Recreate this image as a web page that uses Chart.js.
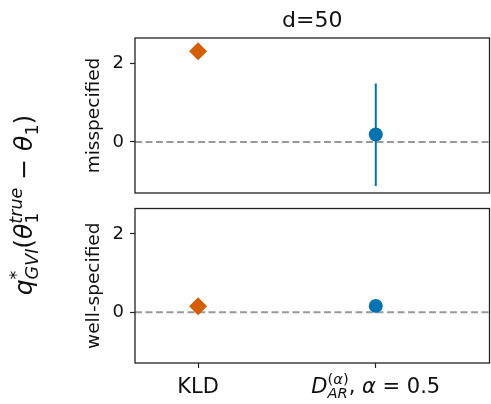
<!DOCTYPE html>
<html>
<head>
<meta charset="utf-8">
<script src="https://cdn.jsdelivr.net/npm/chart.js@4"></script>
<style>
  html, body { margin: 0; padding: 0; background: #fff; }
  #wrap { position: relative; width: 491px; height: 404px; }
  #wrap canvas { position: absolute; left: 0; top: 0; }
</style>
</head>
<body>
<div id="wrap">
  <canvas id="topPanel" width="491" height="404"></canvas>
  <canvas id="bottomPanel" width="491" height="404"></canvas>
</div>
<script>
// --- data ---
const methods = ['KLD', 'D_AR (alpha=0.5)'];
const methodPos = [0, 1];
const misspecMean = [2.31, 0.19];
const misspecLow = [null, -1.12];
const misspecHigh = [null, 1.49];
const wellMean = [0.15, 0.16];
const wellLow = [null, null];
const wellHigh = [null, null];
const yTicks = [0, 2];
const panelNames = ['misspecified', 'well-specified'];
const figTitle = 'd=50';

// rich text for labels that use math
const methodLabels = [
    [{ t: 'KLD' }],
    [
        { t: 'D', it: true },
        { sup: [{ t: '(', sc: 0.7 }, { t: 'α', it: true, sc: 0.7 }, { t: ')', sc: 0.7 }],
          sub: [{ t: 'AR', it: true, sc: 0.7 }] },
        { t: ', ' }, { t: 'α', it: true }, { t: ' = ' }, { t: '0.5' }
    ]
];
const yLabel = [
    { t: 'q', it: true },
    { sup: [{ t: '*', sc: 0.7 }], sub: [{ t: 'GVI', it: true, sc: 0.7 }] },
    { t: '(' }, { t: 'θ', it: true },
    { sup: [{ t: 'true', it: true, sc: 0.7 }], sub: [{ t: '1', sc: 0.7 }] },
    { t: ' − ' }, { t: 'θ', it: true },
    { sub: [{ t: '1', sc: 0.7 }] },
    { t: ')' }
];

const ORANGE = '#D55E00';
const BLUE = '#0173B2';
const markerColors = [ORANGE, BLUE];
const markerStyles = ['rectRot', 'circle'];
const markerSizes = [9, 7];
const X_MIN = -0.355, X_MAX = 1.64;
const Y_MIN = -1.3, Y_MAX = 2.65;
const FONT = '"DejaVu Sans", sans-serif';
const INK = '#111';

// --- tiny mathtext-ish renderer ---
function setFont(ctx, p, size) {
    ctx.font = (p.it ? 'italic ' : '') + (size * (p.sc || 1)).toFixed(1) + 'px ' + FONT;
}
function pieceWidth(ctx, p, size) {
    if (p.sup || p.sub) {
        return Math.max(listWidth(ctx, p.sup || [], size), listWidth(ctx, p.sub || [], size));
    }
    setFont(ctx, p, size);
    return ctx.measureText(p.t).width;
}
function listWidth(ctx, list, size) {
    return list.reduce((w, p) => w + pieceWidth(ctx, p, size), 0);
}
function drawList(ctx, list, x, y, size) {
    for (const p of list) {
        if (p.sup || p.sub) {
            if (p.sup) drawList(ctx, p.sup, x, y - 0.42 * size, size);
            if (p.sub) drawList(ctx, p.sub, x, y + 0.24 * size, size);
        } else {
            setFont(ctx, p, size);
            ctx.fillText(p.t, x, y);
        }
        x += pieceWidth(ctx, p, size);
    }
}
function drawCentered(ctx, list, cx, y, size) {
    const w = listWidth(ctx, list, size);
    drawList(ctx, list, cx - w / 2, y, size);
}

function buildDatasets(means, lows, highs) {
    const sets = [];
    means.forEach((m, i) => {
        sets.push({
            type: 'scatter',
            data: [{ x: methodPos[i], y: m }],
            pointStyle: markerStyles[i],
            pointRadius: markerSizes[i],
            backgroundColor: markerColors[i],
            borderWidth: 0
        });
    });
    means.forEach((m, i) => {
        if (lows[i] === null) return;
        sets.push({
            type: 'line',
            data: [{ x: methodPos[i], y: lows[i] }, { x: methodPos[i], y: highs[i] }],
            borderColor: markerColors[i],
            borderWidth: 2,
            pointRadius: 0
        });
    });
    sets.push({
        type: 'line',
        data: [{ x: X_MIN, y: 0 }, { x: X_MAX, y: 0 }],
        borderColor: '#999999',
        borderDash: [7, 3.5],
        borderWidth: 2,
        pointRadius: 0
    });
    return sets;
}

const framePlugin = {
    id: 'frame',
    afterDraw(chart) {
        const { ctx, chartArea: a } = chart;
        ctx.save();
        ctx.strokeStyle = '#222';
        ctx.lineWidth = 1.3;
        ctx.strokeRect(a.left, a.top, a.right - a.left, a.bottom - a.top);
        ctx.restore();
    }
};

function makePanel(id, idx, means, lows, highs, isBottom) {
    const extras = {
        id: 'extras' + idx,
        afterDraw(chart) {
            const { ctx, chartArea: a } = chart;
            ctx.save();
            ctx.fillStyle = INK;
            ctx.textBaseline = 'alphabetic';
            if (!isBottom) {
                ctx.font = '22px ' + FONT;
                ctx.textAlign = 'center';
                ctx.fillText(figTitle, (a.left + a.right) / 2, 27);
            } else {
                ctx.textAlign = 'left';
                const xs = chart.scales.x;
                methodLabels.forEach((lab, i) => {
                    drawCentered(ctx, lab, xs.getPixelForValue(methodPos[i]), 393, 21);
                });
                ctx.translate(32, 205);
                ctx.rotate(-Math.PI / 2);
                drawCentered(ctx, yLabel, 0, 0, 25);
            }
            ctx.restore();
        }
    };

    return new Chart(document.getElementById(id), {
        data: { datasets: buildDatasets(means, lows, highs) },
        options: {
            responsive: false,
            animation: false,
            events: [],
            layout: {
                autoPadding: false,
                padding: isBottom
                    ? { top: 208.5, bottom: 0, left: 0, right: 1.5 }
                    : { top: 38, bottom: 211, left: 0, right: 1.5 }
            },
            plugins: { legend: { display: false }, tooltip: { enabled: false } },
            scales: {
                x: {
                    type: 'linear',
                    min: X_MIN,
                    max: X_MAX,
                    display: isBottom,
                    afterBuildTicks: s => { s.ticks = methodPos.map(v => ({ value: v })); },
                    afterFit: s => { s.height = isBottom ? 41 : 0; },
                    ticks: { callback: () => '', padding: 0 },
                    grid: { drawOnChartArea: false, tickLength: 5, color: '#222', tickWidth: 1.2 },
                    border: { display: false }
                },
                y: {
                    min: Y_MIN,
                    max: Y_MAX,
                    afterBuildTicks: s => { s.ticks = yTicks.map(v => ({ value: v })); },
                    afterFit: s => { s.width = 135; },
                    ticks: { font: { family: FONT, size: 18 }, color: INK, padding: 6 },
                    grid: { drawOnChartArea: false, tickLength: 5, color: '#222', tickWidth: 1.2 },
                    border: { display: false },
                    title: {
                        display: true,
                        text: panelNames[idx],
                        font: { family: FONT, size: 18.5 },
                        color: INK,
                        padding: { top: 83, bottom: 0 }
                    }
                }
            }
        },
        plugins: [framePlugin, extras]
    });
}

makePanel('topPanel', 0, misspecMean, misspecLow, misspecHigh, false);
makePanel('bottomPanel', 1, wellMean, wellLow, wellHigh, true);
</script>
</body>
</html>
